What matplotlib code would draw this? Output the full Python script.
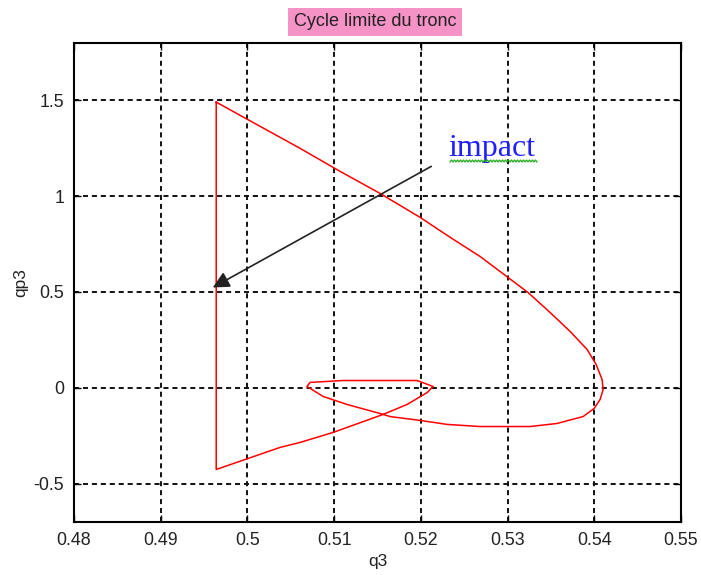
import numpy as np
import matplotlib
matplotlib.use("Agg")
import matplotlib.pyplot as plt
from matplotlib.lines import Line2D

# limit cycle of the trunk (q3, qp3)
q3 = [0.4964, 0.50145, 0.50607, 0.51068, 0.51529, 0.51991, 0.52337, 0.52683,
      0.52913, 0.53236, 0.53490, 0.53721, 0.53917, 0.54021, 0.5409, 0.54102,
      0.54067, 0.53998, 0.53871, 0.53571, 0.53260, 0.52683, 0.52302, 0.51991,
      0.51645, 0.51529, 0.51149, 0.50872, 0.50687, 0.50722, 0.51103, 0.51956,
      0.52141, 0.52072, 0.51841, 0.51564, 0.50987, 0.50607, 0.50376, 0.4964,
      0.4964]
qp3 = [1.49, 1.364, 1.249, 1.129, 1.014, 0.889, 0.785, 0.685,
       0.607, 0.497, 0.393, 0.294, 0.200, 0.122, 0.043, -0.009,
       -0.061, -0.108, -0.150, -0.186, -0.202, -0.202, -0.191, -0.170,
       -0.150, -0.134, -0.087, -0.045, 0.007, 0.028, 0.038, 0.038,
       0.007, -0.025, -0.087, -0.139, -0.233, -0.285, -0.311, -0.426,
       1.49]

xticks = [0.48, 0.49, 0.5, 0.51, 0.52, 0.53, 0.54, 0.55]
xticklabels = ['0.48', '0.49', '0.5', '0.51', '0.52', '0.53', '0.54', '0.55']
yticks = [-0.5, 0, 0.5, 1, 1.5]
yticklabels = ['-0.5', '0', '0.5', '1', '1.5']

arrow_tail = (0.5212, 1.155)
arrow_head = (0.4960, 0.523)
impact_pos = (0.5232, 1.207)

plt.rcParams['font.family'] = ['Liberation Sans', 'DejaVu Sans']

fig = plt.figure(figsize=(7.01, 5.75), dpi=100)
fig.patch.set_facecolor('white')
ax = fig.add_axes([74/701, 53/575, 607/701, 479.3/575])

ax.plot(q3, qp3, color='red', lw=1.1, zorder=3)

ax.set_xlim(0.48, 0.55)
ax.set_ylim(-0.7, 1.8)
ax.set_xticks(xticks)
ax.set_xticklabels(xticklabels)
ax.set_yticks(yticks)
ax.set_yticklabels(yticklabels)
ax.tick_params(direction='in', length=5, width=1, top=True, right=True,
               labelsize=12.8, labelcolor='#222222', pad=7)
for s in ax.spines.values():
    s.set_linewidth(1.5)
ax.grid(True, color='#111111', lw=1.4, linestyle=(0, (2.6, 2.0)))

ax.set_xlabel('q3', fontsize=12.5, color='#222222', labelpad=4)
ax.set_ylabel('qp3', fontsize=12.5, color='#222222', labelpad=4)

ax.annotate('', xy=arrow_head, xytext=arrow_tail,
            arrowprops=dict(arrowstyle='-|>', color='#222222', lw=1.2,
                            mutation_scale=25, shrinkA=0, shrinkB=0),
            zorder=4)
ax.text(impact_pos[0], impact_pos[1], 'impact', fontsize=23, color='#2020ff',
        family=['Liberation Serif', 'DejaVu Serif'], va='baseline', ha='left')

# green spell-check squiggle under "impact"
xs = np.arange(450, 538, 1.5)
ys = 575 - 161 + np.where(np.arange(len(xs)) % 2 == 0, -1.0, 1.0)
fig.add_artist(Line2D(xs / 701, ys / 575, color='#22aa22', lw=0.9,
                      transform=fig.transFigure))

fig.text(375/701, 1 - 22/575, 'Cycle limite du tronc', fontsize=13,
         color='#222222', ha='center', va='center',
         bbox=dict(boxstyle='square,pad=0.3', facecolor='#f592c6',
                   edgecolor='none'))

fig.savefig('out.png', dpi=100)
